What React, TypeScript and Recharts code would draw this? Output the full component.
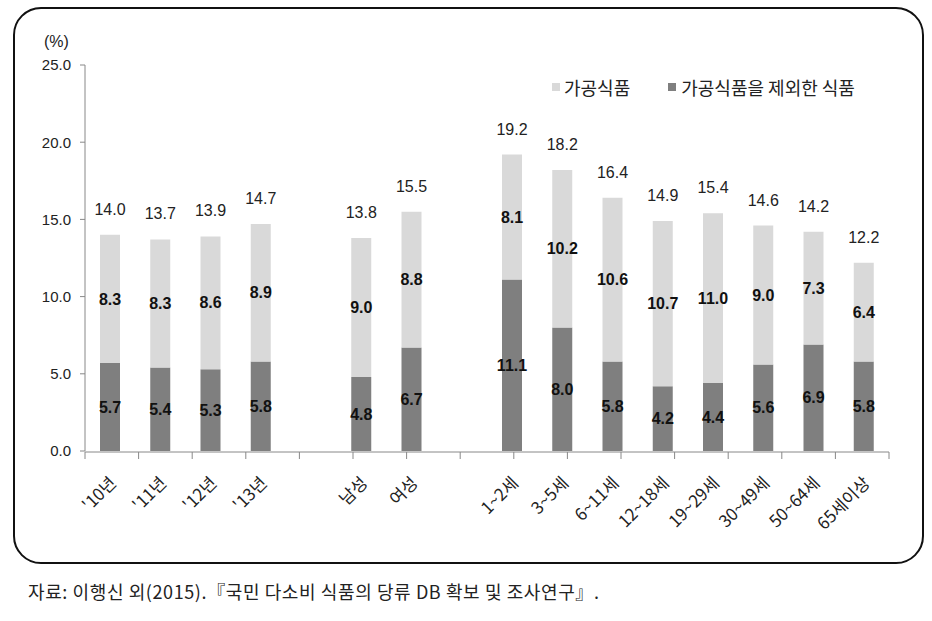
import React from 'react';
import { BarChart, Bar, XAxis, YAxis, LabelList } from 'recharts';

const categories = ["'10년", "'11년", "'12년", "'13년", '', '남성', '여성', '', '1~2세', '3~5세', '6~11세', '12~18세', '19~29세', '30~49세', '50~64세', '65세이상'];
const nonProcessed = [5.7, 5.4, 5.3, 5.8, null, 4.8, 6.7, null, 11.1, 8.0, 5.8, 4.2, 4.4, 5.6, 6.9, 5.8];
const processed = [8.3, 8.3, 8.6, 8.9, null, 9.0, 8.8, null, 8.1, 10.2, 10.6, 10.7, 11.0, 9.0, 7.3, 6.4];
const totals = [14.0, 13.7, 13.9, 14.7, null, 13.8, 15.5, null, 19.2, 18.2, 16.4, 14.9, 15.4, 14.6, 14.2, 12.2];
const yTicks = [0, 5, 10, 15, 20, 25];
const seriesNames = { processed: '가공식품', nonProcessed: '가공식품을 제외한 식품' };

const data = categories.map((name, i) => ({
  name,
  nonProcessed: nonProcessed[i],
  processed: processed[i],
  total: totals[i],
}));
const boundaryTicks = categories.map((_, i) => i).concat([categories.length]);

const LIGHT = '#d9d9d9';
const DARK = '#7f7f7f';
const AXIS = '#888888';
const NUM_FONT = '"Liberation Sans", Arial, sans-serif';
const KR_FONT = '"Noto Sans CJK KR", "Noto Sans", sans-serif';

const fmt = (v: any) => (v === null || v === undefined ? '' : Number(v).toFixed(1));

const XTick = (props: any) => {
  const { x, y, payload } = props;
  const ax = x + 3;
  const ay = y + 21;
  return (
    <text
      x={ax}
      y={ay}
      dy="0.35em"
      textAnchor="end"
      transform={`rotate(-45, ${ax}, ${ay})`}
      fontFamily={KR_FONT}
      fontSize={17}
      fill="#222"
    >
      {payload.value}
    </text>
  );
};

export default function App() {
  return (
    <div style={{ position: 'absolute', left: 0, top: 0, width: 932, height: 621, background: '#fff' }}>
      <div
        style={{
          position: 'absolute',
          left: 13,
          top: 7,
          width: 907,
          height: 553,
          border: '2px solid #111',
          borderRadius: 28,
        }}
      />
      <div
        style={{
          position: 'absolute',
          left: 44,
          top: 33,
          fontFamily: NUM_FONT,
          fontSize: 16,
          color: '#222',
        }}
      >
        (%)
      </div>
      <div
        style={{
          position: 'absolute',
          left: 552,
          top: 74,
          display: 'flex',
          alignItems: 'center',
          fontFamily: KR_FONT,
          fontSize: 18,
          color: '#222',
          whiteSpace: 'nowrap',
        }}
      >
        <span style={{ width: 8, height: 8, background: LIGHT, display: 'inline-block', marginRight: 4 }} />
        <span style={{ marginRight: 38 }}>{seriesNames.processed}</span>
        <span style={{ width: 8, height: 8, background: DARK, display: 'inline-block', marginRight: 5 }} />
        <span>{seriesNames.nonProcessed}</span>
      </div>
      <div style={{ position: 'absolute', left: 0, top: 0 }}>
        <BarChart
          width={932}
          height={621}
          data={data}
          margin={{ top: 65, right: 43, left: 0, bottom: 101 }}
          barSize={20}
        >
          <XAxis
            xAxisId="cat"
            dataKey="name"
            type="category"
            height={1}
            axisLine={false}
            tickLine={false}
            interval={0}
            tick={<XTick />}
          />
          <XAxis
            xAxisId="grid"
            type="number"
            domain={[0, categories.length]}
            ticks={boundaryTicks}
            allowDataOverflow
            height={68}
            tickSize={7}
            tickFormatter={() => ''}
            axisLine={{ stroke: AXIS }}
            tickLine={{ stroke: AXIS }}
          />
          <YAxis
            width={85}
            domain={[0, 25]}
            ticks={yTicks}
            tickFormatter={(v: number) => v.toFixed(1)}
            tickSize={5}
            tickMargin={9}
            axisLine={{ stroke: AXIS }}
            tickLine={{ stroke: AXIS }}
            tick={{ fontFamily: NUM_FONT, fontSize: 15, fill: '#222' }}
          />
          <Bar
            xAxisId="cat"
            dataKey="nonProcessed"
            stackId="a"
            fill={DARK}
            name={seriesNames.nonProcessed}
            isAnimationActive={false}
          >
            <LabelList
              dataKey="nonProcessed"
              position="center"
              formatter={fmt}
              style={{ fontFamily: NUM_FONT, fontSize: 16, fontWeight: 'bold', fill: '#111' }}
            />
          </Bar>
          <Bar
            xAxisId="cat"
            dataKey="processed"
            stackId="a"
            fill={LIGHT}
            name={seriesNames.processed}
            isAnimationActive={false}
          >
            <LabelList
              dataKey="processed"
              position="center"
              formatter={fmt}
              style={{ fontFamily: NUM_FONT, fontSize: 16, fontWeight: 'bold', fill: '#111' }}
            />
            <LabelList
              dataKey="total"
              position="top"
              offset={20}
              formatter={fmt}
              style={{ fontFamily: NUM_FONT, fontSize: 16, fill: '#222' }}
            />
          </Bar>
        </BarChart>
      </div>
      <div
        style={{
          position: 'absolute',
          left: 28,
          top: 578,
          fontFamily: KR_FONT,
          fontSize: 18,
          letterSpacing: 0.6,
          color: '#222',
          whiteSpace: 'nowrap',
        }}
      >
        자료: 이행신 외(2015).『국민 다소비 식품의 당류 DB 확보 및 조사연구』.
      </div>
    </div>
  );
}
